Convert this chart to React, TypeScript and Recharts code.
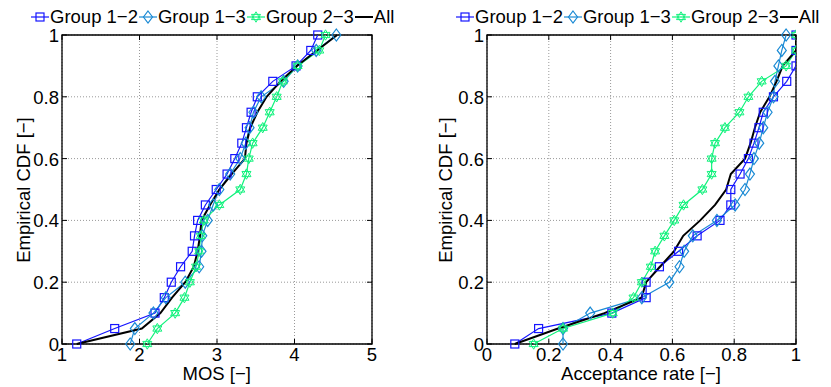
import React from 'react';
import { LineChart, Line, XAxis, YAxis, CartesianGrid, ReferenceArea } from 'recharts';

// CDF levels shared by every series
const cdfLevels = [0, 0.05, 0.1, 0.15, 0.2, 0.25, 0.3, 0.35, 0.4, 0.45, 0.5, 0.55, 0.6, 0.65, 0.7, 0.75, 0.8, 0.85, 0.9, 0.95, 1];

// Left panel: MOS
const mosGroup12 = [1.19, 1.68, 2.2, 2.32, 2.41, 2.53, 2.68, 2.71, 2.75, 2.85, 2.99, 3.13, 3.23, 3.32, 3.38, 3.44, 3.52, 3.72, 4.02, 4.21, 4.3];
const mosGroup13 = [1.88, 1.94, 2.18, 2.34, 2.59, 2.77, 2.8, 2.81, 2.88, 2.95, 3.03, 3.17, 3.3, 3.37, 3.42, 3.47, 3.57, 3.86, 4.04, 4.28, 4.54];
const mosGroup23 = [2.1, 2.23, 2.46, 2.58, 2.65, 2.73, 2.77, 2.79, 2.83, 3.03, 3.3, 3.38, 3.41, 3.46, 3.59, 3.68, 3.77, 3.85, 4.04, 4.32, 4.4];
const mosAll = [1.19, 2.03, 2.27, 2.42, 2.59, 2.7, 2.75, 2.78, 2.8, 2.91, 3.03, 3.19, 3.36, 3.38, 3.43, 3.52, 3.64, 3.82, 4.03, 4.29, 4.55];

// Right panel: acceptance rate
const accGroup12 = [0.09, 0.167, 0.404, 0.515, 0.515, 0.558, 0.62, 0.68, 0.754, 0.789, 0.789, 0.819, 0.846, 0.864, 0.88, 0.894, 0.927, 0.97, 1.0, 1.0, 1.0];
const accGroup13 = [0.246, 0.246, 0.334, 0.501, 0.59, 0.623, 0.638, 0.666, 0.744, 0.803, 0.835, 0.851, 0.864, 0.881, 0.894, 0.908, 0.927, 0.932, 0.943, 0.954, 0.968];
const accGroup23 = [0.151, 0.246, 0.407, 0.474, 0.501, 0.53, 0.544, 0.574, 0.606, 0.636, 0.697, 0.727, 0.727, 0.738, 0.77, 0.817, 0.846, 0.889, 0.968, 1.0, 1.0];
const accAll = [0.09, 0.23, 0.38, 0.5, 0.515, 0.56, 0.605, 0.635, 0.69, 0.738, 0.774, 0.789, 0.835, 0.853, 0.867, 0.884, 0.914, 0.937, 0.957, 1.0, 1.0];

// Tick labels
const yTicks = [0, 0.2, 0.4, 0.6, 0.8, 1];
const mosTicks = [1, 2, 3, 4, 5];
const accTicks = [0, 0.2, 0.4, 0.6, 0.8, 1];

const seriesNames = ['Group 1\u22122', 'Group 1\u22123', 'Group 2\u22123', 'All'];

const COLORS = {
  g12: '#1414ff',
  g13: '#1a8ad4',
  g23: '#10f27c',
  all: '#000000',
};

const FONT = '"Liberation Sans", Arial, Helvetica, sans-serif';
const FONT_SIZE = 18.5;
const PLOT_TOP = 35;

const toPoints = (xs: number[]) => xs.map((x, i) => ({ x, y: cdfLevels[i] }));

// Marker shapes (MATLAB style)
function Square({ cx, cy, color }: { cx: number; cy: number; color: string }) {
  return <rect x={cx - 4} y={cy - 4} width={8} height={8} fill="none" stroke={color} strokeWidth={1.2} />;
}

function Diamond({ cx, cy, color }: { cx: number; cy: number; color: string }) {
  return (
    <polygon
      points={`${cx},${cy - 6} ${cx + 4.5},${cy} ${cx},${cy + 6} ${cx - 4.5},${cy}`}
      fill="none"
      stroke={color}
      strokeWidth={1.2}
    />
  );
}

function Hexagram({ cx, cy, color }: { cx: number; cy: number; color: string }) {
  const r = 5.2;
  const h = r * 0.866;
  const up = `${cx},${cy - r} ${cx + h},${cy + r / 2} ${cx - h},${cy + r / 2}`;
  const down = `${cx},${cy + r} ${cx + h},${cy - r / 2} ${cx - h},${cy - r / 2}`;
  return (
    <g fill="none" stroke={color} strokeWidth={1}>
      <polygon points={up} />
      <polygon points={down} />
    </g>
  );
}

const dotRenderer = (Shape: any, color: string) => (p: any) => (
  <g key={`dot-${p.index}`}>
    <Shape cx={p.cx} cy={p.cy} color={color} />
  </g>
);

// Ticks drawn inside the box, with labels outside
const makeXTick = (plotBottom: number) => (props: any) => {
  const { x, y, payload } = props;
  return (
    <g>
      <line x1={x} x2={x} y1={plotBottom} y2={plotBottom - 5} stroke="#000" />
      <line x1={x} x2={x} y1={PLOT_TOP} y2={PLOT_TOP + 5} stroke="#000" />
      <text x={x} y={y + 17} textAnchor="middle" fill="#000" fontSize={FONT_SIZE} fontFamily={FONT}>
        {String(payload.value)}
      </text>
    </g>
  );
};

const makeYTick = (plotRight: number) => (props: any) => {
  const { x, y, payload } = props;
  return (
    <g>
      <line x1={x} x2={x + 5} y1={y} y2={y} stroke="#000" />
      <line x1={plotRight - 5} x2={plotRight} y1={y} y2={y} stroke="#000" />
      <text x={x - 3} y={y + 7} textAnchor="end" fill="#000" fontSize={FONT_SIZE} fontFamily={FONT}>
        {String(payload.value)}
      </text>
    </g>
  );
};

interface PanelProps {
  width: number;
  left: number;
  right: number;
  domain: [number, number];
  xTicks: number[];
  g12: number[];
  g13: number[];
  g23: number[];
  all: number[];
}

function CdfPanel({ width, left, right, domain, xTicks, g12, g13, g23, all }: PanelProps) {
  const height = 387;
  const plotBottom = 344;
  const plotRight = width - right;
  return (
    <LineChart width={width} height={height} margin={{ top: PLOT_TOP, right, bottom: 13, left }}>
      <CartesianGrid stroke="#999" strokeDasharray="1 2" />
      <XAxis
        type="number"
        dataKey="x"
        domain={domain}
        ticks={xTicks}
        allowDataOverflow
        height={30}
        axisLine={false}
        tickLine={false}
        tickSize={0}
        tickMargin={0}
        tick={makeXTick(plotBottom)}
        interval={0}
      />
      <YAxis
        type="number"
        dataKey="y"
        domain={[0, 1]}
        ticks={yTicks}
        width={50}
        axisLine={false}
        tickLine={false}
        tickSize={0}
        tickMargin={0}
        tick={makeYTick(plotRight)}
        interval={0}
      />
      <ReferenceArea x1={domain[0]} x2={domain[1]} y1={0} y2={1} fill="none" stroke="#000" strokeWidth={1.3} />
      <Line data={toPoints(g12)} dataKey="y" stroke={COLORS.g12} strokeWidth={1.2} dot={dotRenderer(Square, COLORS.g12)} activeDot={false} isAnimationActive={false} />
      <Line data={toPoints(g13)} dataKey="y" stroke={COLORS.g13} strokeWidth={1.2} dot={dotRenderer(Diamond, COLORS.g13)} activeDot={false} isAnimationActive={false} />
      <Line data={toPoints(g23)} dataKey="y" stroke={COLORS.g23} strokeWidth={1.2} dot={dotRenderer(Hexagram, COLORS.g23)} activeDot={false} isAnimationActive={false} />
      <Line data={toPoints(all)} dataKey="y" stroke={COLORS.all} strokeWidth={2} dot={false} activeDot={false} isAnimationActive={false} />
    </LineChart>
  );
}

function LegendSymbol({ kind }: { kind: number }) {
  const colors = [COLORS.g12, COLORS.g13, COLORS.g23, COLORS.all];
  const shapes = [Square, Diamond, Hexagram, null];
  const Shape: any = shapes[kind];
  return (
    <svg width={20} height={20} style={{ display: 'block' }}>
      <line x1={1} x2={19} y1={10} y2={10} stroke={colors[kind]} strokeWidth={kind === 3 ? 2 : 1.2} />
      {Shape && <Shape cx={10} cy={10} color={colors[kind]} />}
    </svg>
  );
}

function TopLegend({ left }: { left: number }) {
  return (
    <div style={{ position: 'absolute', left, top: 7, display: 'flex', alignItems: 'center', fontFamily: FONT, fontSize: FONT_SIZE, lineHeight: '20px', whiteSpace: 'nowrap' }}>
      {seriesNames.map((name, i) => (
        <React.Fragment key={name}>
          <LegendSymbol kind={i} />
          <span>{name}</span>
        </React.Fragment>
      ))}
    </div>
  );
}

const titleStyle: React.CSSProperties = {
  position: 'absolute',
  fontFamily: FONT,
  fontSize: FONT_SIZE,
  lineHeight: '16px',
  whiteSpace: 'nowrap',
  color: '#000',
};

export default function App() {
  return (
    <div style={{ position: 'absolute', left: 0, top: 0, width: 831, height: 387, background: '#fff', overflow: 'hidden' }}>
      <div style={{ position: 'absolute', left: 0, top: 0 }}>
        <CdfPanel width={420} left={12} right={48} domain={[1, 5]} xTicks={mosTicks} g12={mosGroup12} g13={mosGroup13} g23={mosGroup23} all={mosAll} />
      </div>
      <div style={{ position: 'absolute', left: 420, top: 0 }}>
        <CdfPanel width={411} left={17} right={35} domain={[0, 1]} xTicks={accTicks} g12={accGroup12} g13={accGroup13} g23={accGroup23} all={accAll} />
      </div>

      <TopLegend left={30} />
      <TopLegend left={455} />

      <div style={{ ...titleStyle, left: 23.5, top: 190, transform: 'translate(-50%, -50%) rotate(-90deg)' }}>Empirical CDF [−]</div>
      <div style={{ ...titleStyle, left: 445.5, top: 190, transform: 'translate(-50%, -50%) rotate(-90deg)' }}>Empirical CDF [−]</div>

      <div style={{ ...titleStyle, left: 216.7, top: 365.6, transform: 'translateX(-50%)' }}>MOS [−]</div>
      <div style={{ ...titleStyle, left: 641, top: 365.6, transform: 'translateX(-50%)' }}>Acceptance rate [−]</div>
    </div>
  );
}
